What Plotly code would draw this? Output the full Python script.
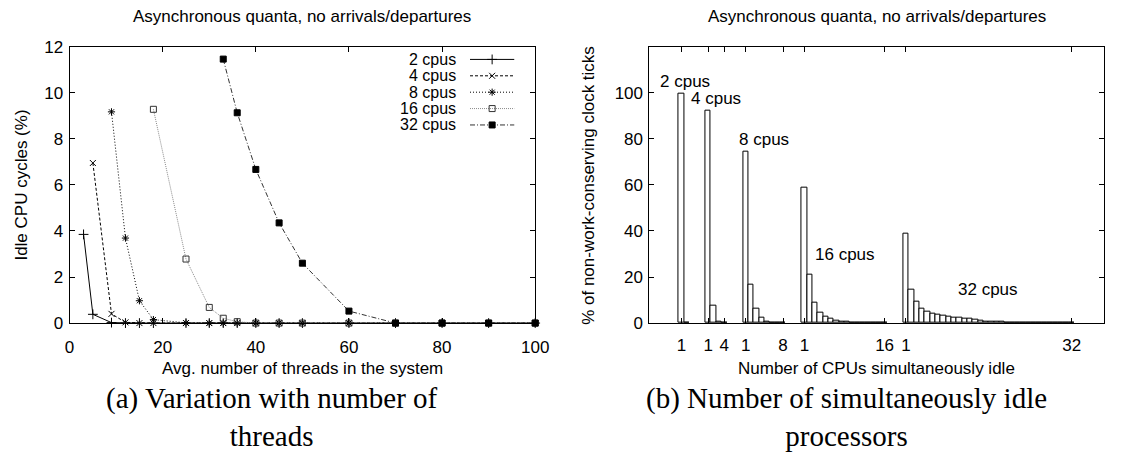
import plotly.graph_objects as go

W, H = 1125, 457

# ---------------- Left chart data: idle CPU cycles vs threads ----------------
series_names = ["2 cpus", "4 cpus", "8 cpus", "16 cpus", "32 cpus"]

threads_2 = [3, 5, 9, 12, 15, 18, 25, 30, 33, 36, 40, 45, 50, 60, 70, 80, 90, 100]
idle_2 = [3.85, 0.38, 0.02, 0, 0, 0, 0, 0, 0, 0, 0, 0, 0, 0, 0, 0, 0, 0]

threads_4 = [5, 9, 12, 15, 18, 25, 30, 33, 36, 40, 45, 50, 60, 70, 80, 90, 100]
idle_4 = [6.95, 0.4, 0.03, 0, 0, 0, 0, 0, 0, 0, 0, 0, 0, 0, 0, 0, 0]

threads_8 = [9, 12, 15, 18, 25, 30, 33, 36, 40, 45, 50, 60, 70, 80, 90, 100]
idle_8 = [9.17, 3.69, 0.97, 0.15, 0.01, 0, 0, 0, 0, 0, 0, 0, 0, 0, 0, 0]

threads_16 = [18, 25, 30, 33, 36, 40, 45, 50, 60, 70, 80, 90, 100]
idle_16 = [9.28, 2.78, 0.68, 0.21, 0.06, 0, 0, 0, 0, 0, 0, 0, 0]

threads_32 = [33, 36, 40, 45, 50, 60, 70, 80, 90, 100]
idle_32 = [11.46, 9.13, 6.67, 4.35, 2.6, 0.52, 0, 0, 0, 0]

left_x = [threads_2, threads_4, threads_8, threads_16, threads_32]
left_y = [idle_2, idle_4, idle_8, idle_16, idle_32]

# ---------------- Right chart data: histogram of simultaneously idle CPUs ----------------
hist_2 = [99.8, 0.2]
hist_4 = [92.2, 7.6, 0.6, 0.1]
hist_8 = [74.3, 16.7, 6.25, 2.5, 0.7, 0.3, 0.1, 0.05]
hist_16 = [58.6, 21.1, 8.75, 4.7, 2.8, 1.9, 1.25, 0.8, 0.45, 0.25, 0.12, 0.06, 0.05, 0.05, 0.05, 0.05]
hist_32 = [38.9, 14.7, 9.2, 6.1, 5.0, 4.2, 3.6, 3.2, 2.8, 2.5, 2.2, 1.9, 1.7, 1.4, 1.1,
           0.8, 0.7, 0.55, 0.4, 0.3, 0.2, 0.12, 0.06, 0.05, 0.05, 0.05, 0.05, 0.05, 0.05,
           0.05, 0.05, 0.05]
hist_values = [hist_2, hist_4, hist_8, hist_16, hist_32]
group_start = [6, 11, 18, 29, 48]          # slot of "1 idle CPU" for each group
group_labels = ["2 cpus", "4 cpus", "8 cpus", "16 cpus", "32 cpus"]
group_label_pos = [(6.65, 104.7), (12.5, 97.7), (21.5, 79.8), (36.5, 29.8), (63.4, 14.5)]

right_tickvals = [6, 11, 14, 18, 25, 29, 44, 48, 79]
right_ticktext = ["1", "1", "4", "1", "8", "1", "16", "1", "32"]

title_text = "Asynchronous quanta, no arrivals/departures"

# ---------------- styles ----------------
SANS = "Liberation Sans, Arial, Helvetica, sans-serif"
SERIF = "Liberation Serif, Times New Roman, serif"
FS = 17

line_styles = [
    dict(color="black", dash="solid", width=1),
    dict(color="black", dash="3px,2px", width=1),
    dict(color="black", dash="1px,2px", width=1),
    dict(color="#8a8a8a", dash="1px,1px", width=1),
    dict(color="#333333", dash="5px,2px,1px,2px", width=1),
]
marker_styles = [
    dict(symbol="cross-thin", size=7, line=dict(color="black", width=1), color="black"),
    dict(symbol="x-thin", size=6, line=dict(color="black", width=1), color="black"),
    dict(symbol="asterisk", size=6, line=dict(color="black", width=1), color="black"),
    dict(symbol="square-open", size=6, line=dict(color="#333333", width=1), color="#333333"),
    dict(symbol="square", size=6, line=dict(color="black", width=1), color="black"),
]

# pixel geometry -> paper domain
Lx0, Lx1 = 65.7, 539.3
Rx0, Rx1 = 655.5, 1117.6
Ytop, Ybot = 39.3, 327.7

def px(x):
    return x / W

def py(y):
    return 1 - y / H

fig = go.Figure()

for i, name in enumerate(series_names):
    fig.add_trace(go.Scatter(
        x=left_x[i], y=left_y[i], mode="lines+markers", name=name,
        line=line_styles[i], marker=marker_styles[i],
        xaxis="x", yaxis="y", showlegend=False, cliponaxis=False,
    ))

# legend keys (gnuplot style: text then sample) on an overlay axis in pixel units
leg_rows = [52.6, 69.7, 86.8, 103.9, 121.0]
for i, name in enumerate(series_names):
    fig.add_trace(go.Scatter(
        x=[473, 518], y=[leg_rows[i], leg_rows[i]], mode="lines",
        line=line_styles[i], xaxis="x3", yaxis="y3", showlegend=False, hoverinfo="skip",
    ))
    fig.add_trace(go.Scatter(
        x=[495.5], y=[leg_rows[i]], mode="markers",
        marker=marker_styles[i], xaxis="x3", yaxis="y3", showlegend=False, hoverinfo="skip",
    ))

for g, vals in enumerate(hist_values):
    xs = [group_start[g] + k for k in range(len(vals))]
    fig.add_trace(go.Bar(
        x=xs, y=vals, width=1.0, marker=dict(color="white", line=dict(color="black", width=1)),
        xaxis="x2", yaxis="y2", showlegend=False, name=group_labels[g],
    ))

axis_common = dict(
    showline=True, linecolor="black", linewidth=1, mirror="ticks",
    ticks="inside", ticklen=5, tickwidth=1, tickcolor="black",
    showgrid=False, zeroline=False,
    tickfont=dict(family=SANS, size=FS, color="black"),
)

fig.update_layout(
    width=W, height=H,
    margin=dict(l=0, r=0, t=0, b=0),
    paper_bgcolor="white", plot_bgcolor="white",
    bargap=0,
    xaxis=dict(domain=[px(Lx0), px(Lx1)], range=[0, 100], tickvals=[0, 20, 40, 60, 80, 100],
               anchor="y", ticklabelstandoff=9, **axis_common),
    yaxis=dict(domain=[py(Ybot), py(Ytop)], range=[0, 12], tickvals=[0, 2, 4, 6, 8, 10, 12],
               anchor="x", ticklabelstandoff=2, **axis_common),
    xaxis2=dict(domain=[px(Rx0), px(Rx1)], range=[0, 85], tickvals=right_tickvals,
                ticktext=right_ticktext, anchor="y2", ticklabelstandoff=7, **axis_common),
    yaxis2=dict(domain=[py(Ybot), py(Ytop)], range=[0, 120], tickvals=[0, 20, 40, 60, 80, 100],
                anchor="x2", ticklabelstandoff=2, **axis_common),
    xaxis3=dict(range=[Lx0, Lx1], visible=False, anchor="y3", overlaying="x"),
    yaxis3=dict(range=[Ybot, Ytop], visible=False, anchor="x3", overlaying="y"),
    showlegend=False,
)

ann = []
for i, name in enumerate(series_names):
    ann.append(dict(x=px(461), y=py(leg_rows[i]), xref="paper", yref="paper", text=name,
                    xanchor="right", yanchor="middle", showarrow=False,
                    font=dict(family=SANS, size=16, color="black")))
for g, lab in enumerate(group_labels):
    ann.append(dict(x=group_label_pos[g][0], y=group_label_pos[g][1], xref="x2", yref="y2",
                    text=lab, showarrow=False, xanchor="center", yanchor="middle",
                    font=dict(family=SANS, size=FS, color="black")))
# titles
for cx in [(Lx0 + Lx1) / 2, (Rx0 + Rx1) / 2]:
    ann.append(dict(x=px(cx), y=py(8), xref="paper", yref="paper", text=title_text,
                    showarrow=False, xanchor="center", yanchor="middle",
                    font=dict(family=SANS, size=FS, color="black")))
# axis titles
ann.append(dict(x=px((Lx0 + Lx1) / 2), y=py(375), xref="paper", yref="paper",
                text="Avg. number of threads in the system", showarrow=False,
                xanchor="center", yanchor="middle", font=dict(family=SANS, size=FS, color="black")))
ann.append(dict(x=px((Rx0 + Rx1) / 2), y=py(375), xref="paper", yref="paper",
                text="Number of CPUs simultaneously idle", showarrow=False,
                xanchor="center", yanchor="middle", font=dict(family=SANS, size=FS, color="black")))
ann.append(dict(x=px(17), y=py((Ytop + Ybot) / 2), xref="paper", yref="paper",
                text="Idle CPU cycles (%)", textangle=-90, showarrow=False,
                xanchor="center", yanchor="middle", font=dict(family=SANS, size=FS, color="black")))
ann.append(dict(x=px(594), y=py((Ytop + Ybot) / 2), xref="paper", yref="paper",
                text="% of non-work-conserving clock ticks", textangle=-90, showarrow=False,
                xanchor="center", yanchor="middle", font=dict(family=SANS, size=FS, color="black")))
# captions
ann.append(dict(x=px(272), y=py(426), xref="paper", yref="paper",
                text="(a) Variation with number of<br>threads", showarrow=False,
                xanchor="center", yanchor="middle", align="center",
                font=dict(family=SERIF, size=29, color="black")))
ann.append(dict(x=px(856), y=py(426), xref="paper", yref="paper",
                text="(b) Number of simultaneously idle<br>processors", showarrow=False,
                xanchor="center", yanchor="middle", align="center",
                font=dict(family=SERIF, size=29, color="black")))

fig.update_layout(annotations=ann)
fig.write_html("out.html")
